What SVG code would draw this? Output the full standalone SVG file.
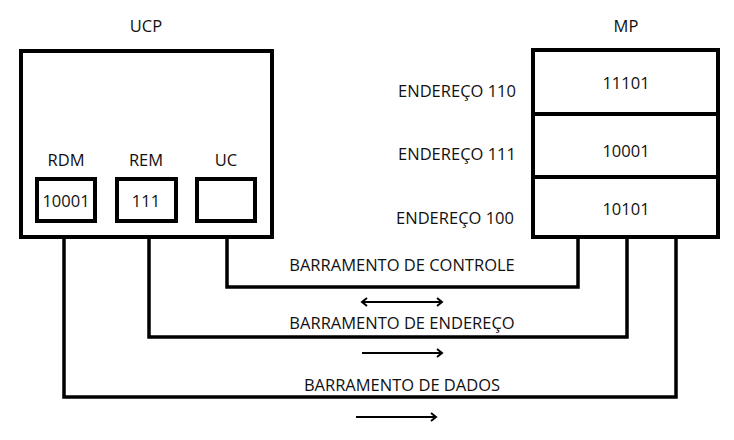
<svg xmlns="http://www.w3.org/2000/svg" width="734" height="440" viewBox="0 0 734 440">
<style>
text{font-family:"Open Sans","Liberation Sans",sans-serif;font-size:16.5px;fill:#111;text-anchor:middle;dominant-baseline:central}
.box{fill:#fff;stroke:#000;stroke-width:4}
.bus{fill:none;stroke:#000;stroke-width:3.5}
.arr{fill:none;stroke:#000;stroke-width:2}
</style>
<defs>
<marker id="ah" viewBox="0 0 10 10" refX="8" refY="5" markerWidth="10" markerHeight="10" markerUnits="userSpaceOnUse" orient="auto-start-reverse">
<path d="M3,1 L8,5 L3,9" fill="none" stroke="#000" stroke-width="2"/>
</marker>
</defs>
<g id="connectors">
<path class="bus" d="M227,221 V287 H578 V237"/>
<path class="bus" d="M149,221 V337 H627 V237"/>
<path class="bus" d="M64,221 V397 H676 V237"/>
<line class="arr" x1="362" y1="302" x2="442" y2="302" marker-start="url(#ah)" marker-end="url(#ah)"/>
<line class="arr" x1="362" y1="353" x2="442" y2="353" marker-end="url(#ah)"/>
<line class="arr" x1="356" y1="417" x2="436" y2="417" marker-end="url(#ah)"/>
<text x="402" y="264">BARRAMENTO DE CONTROLE</text>
<text x="402" y="322">BARRAMENTO DE ENDEREÇO</text>
<text x="402" y="384">BARRAMENTO DE DADOS</text>
</g>
<g id="ucp">
<text x="146" y="25">UCP</text>
<rect class="box" x="21" y="51" width="251" height="186"/>
</g>
<g id="rdm">
<text x="66" y="159">RDM</text>
<rect class="box" x="37" y="179" width="58" height="42"/>
<text x="66" y="200">10001</text>
</g>
<g id="rem">
<text x="146" y="159">REM</text>
<rect class="box" x="117" y="179" width="59" height="42"/>
<text x="146" y="200">111</text>
</g>
<g id="uc">
<text x="226" y="159">UC</text>
<rect class="box" x="197" y="179" width="58" height="42"/>
</g>
<g id="mp">
<text x="626" y="25">MP</text>
<rect class="box" x="533" y="50" width="185" height="187"/>
<line class="box" x1="533" y1="114" x2="718" y2="114"/>
<line class="box" x1="533" y1="177" x2="718" y2="177"/>
<text x="626" y="82">11101</text>
<text x="626" y="150">10001</text>
<text x="626" y="208">10101</text>
</g>
<g id="enderecos">
<text x="457" y="90">ENDEREÇO 110</text>
<text x="457" y="153">ENDEREÇO 111</text>
<text x="455" y="217">ENDEREÇO 100</text>
</g>
</svg>
